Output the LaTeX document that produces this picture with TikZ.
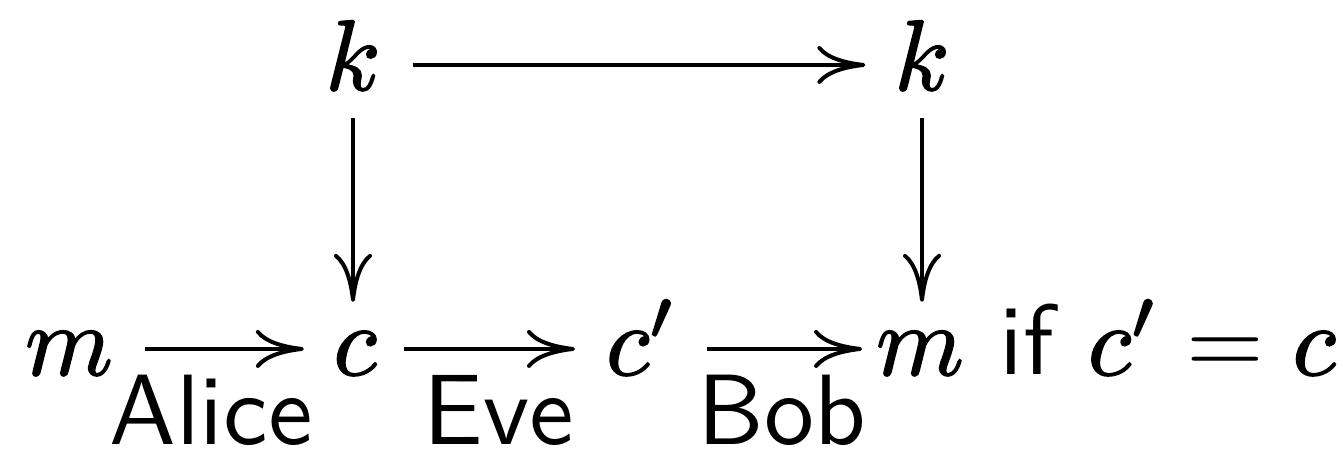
\documentclass[tikz,border=0pt]{standalone}
\usetikzlibrary{arrows.meta}
\newcommand{\heavy}[1]{\special{pdf:literal direct 0.16 w 2 Tr}#1\special{pdf:literal direct 0 Tr 0.4 w}}
\begin{document}
\begin{tikzpicture}[x=0.1pt,y=-0.1pt,
  every node/.style={inner sep=0pt, outer sep=0pt, font=\fontsize{10}{12}\selectfont},
  arr/.style={line width=0.4pt, -{Computer Modern Rightarrow[length=4.8pt,width=3.8pt]}},
  lab/.style={anchor=base, font=\fontsize{10}{12}\selectfont\sffamily}]
\useasboundingbox (0,0) rectangle (1343,449);
% top row
\node[anchor=base] (k1) at (353,90) {$\heavy{k}$};
\node[anchor=base] (k2) at (922,90) {$\heavy{k}$};
% bottom row
\node[anchor=base] (m1) at (69,375) {$\heavy{m}$};
\node[anchor=base] (c1) at (355,375) {$\heavy{c}$};
\node[anchor=base west] (c2) at (606,375) {$\heavy{c'}$};
\node[anchor=base] (m2) at (920,375) {$\heavy{m}$};
\node[anchor=base west] (rest) at (1000,375) {\sffamily if $\heavy{c'} = \heavy{c}$};
% labels
\node[lab] (alice) at (211,445) {Alice};
\node[lab] (eve) at (499,445) {Eve};
\node[lab] (bob) at (782,445) {Bob};
% arrows
\draw[arr] ([xshift=3.2pt,yshift=2.5pt]k1.base east) -- ([xshift=-2.9pt,yshift=2.5pt]k2.base west);
\draw[arr] ([yshift=-2.8pt]k1.base) -- ([yshift=3pt]k1.base |- c1.north);
\draw[arr] ([yshift=-2.8pt]k2.base) -- ([yshift=3pt]k2.base |- m2.north);
\draw[arr] ([xshift=3.2pt,yshift=2.6pt]m1.base east) -- ([xshift=-2.95pt,yshift=2.6pt]c1.base west);
\draw[arr] ([xshift=2.75pt,yshift=2.6pt]c1.base east) -- ([xshift=-3.1pt,yshift=2.6pt]c2.base west);
\draw[arr] ([xshift=3.0pt,yshift=2.6pt]c2.base east) -- ([xshift=-1.4pt,yshift=2.6pt]m2.base west);
\end{tikzpicture}
\end{document}
